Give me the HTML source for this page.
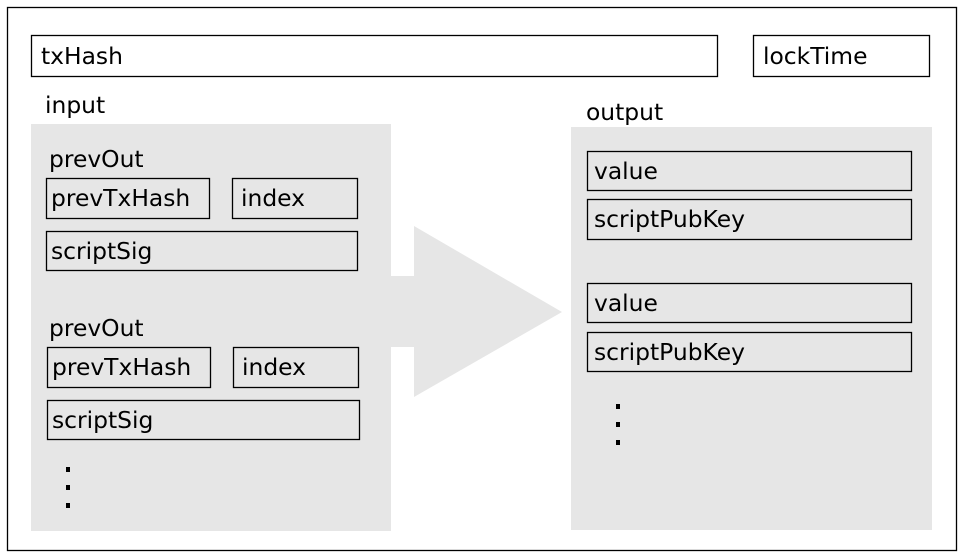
<!DOCTYPE html>
<html><head><style>body{margin:0;background:#fff}svg{display:block}text{font-family:"DejaVu Sans","Liberation Sans",sans-serif;font-size:23.4px;fill:#000}</style></head>
<body>
<svg width="964" height="558" xmlns="http://www.w3.org/2000/svg">
<rect x="7.5" y="7.5" width="949" height="543" fill="#fff" stroke="#000" stroke-width="1.3"/>
<g fill="none" stroke="#000" stroke-width="1.3">
<rect x="31.5" y="35.5" width="686" height="41"/>
<rect x="753.5" y="35.5" width="176" height="41"/>
</g>
<text x="41" y="64">txHash</text>
<text x="763" y="64">lockTime</text>
<rect x="31" y="124" width="360" height="407" fill="#e6e6e6"/>
<rect x="571" y="127" width="361" height="403" fill="#e6e6e6"/>
<polygon points="391,276 414,276 414,226 562,312 414,397 414,347 391,347" fill="#e6e6e6"/>
<text x="45" y="113">input</text>
<text x="586" y="120">output</text>
<text x="49" y="167">prevOut</text>
<text x="49" y="336">prevOut</text>
<g fill="none" stroke="#000" stroke-width="1.3">
<rect x="46.5" y="178.5" width="163" height="40"/>
<rect x="232.5" y="178.5" width="125" height="40"/>
<rect x="46.5" y="231.5" width="311" height="39"/>
<rect x="47.5" y="347.5" width="163" height="40"/>
<rect x="233.5" y="347.5" width="125" height="40"/>
<rect x="47.5" y="400.5" width="312" height="39"/>
<rect x="587.5" y="151.5" width="324" height="39"/>
<rect x="587.5" y="199.5" width="324" height="40"/>
<rect x="587.5" y="283.5" width="324" height="39"/>
<rect x="587.5" y="332.5" width="324" height="39"/>
</g>
<text x="51" y="206">prevTxHash</text>
<text x="241" y="206">index</text>
<text x="51" y="259">scriptSig</text>
<text x="52" y="375">prevTxHash</text>
<text x="242" y="375">index</text>
<text x="52" y="428">scriptSig</text>
<text x="594" y="179">value</text>
<text x="594" y="227">scriptPubKey</text>
<text x="594" y="311">value</text>
<text x="594" y="360">scriptPubKey</text>
<g fill="#000">
<rect x="66" y="467" width="4" height="5"/><rect x="66" y="485" width="4" height="5"/><rect x="66" y="503" width="4" height="5"/>
<rect x="616" y="404" width="4" height="5"/><rect x="616" y="422" width="4" height="5"/><rect x="616" y="440" width="4" height="5"/>
</g>
</svg>
</body></html>
